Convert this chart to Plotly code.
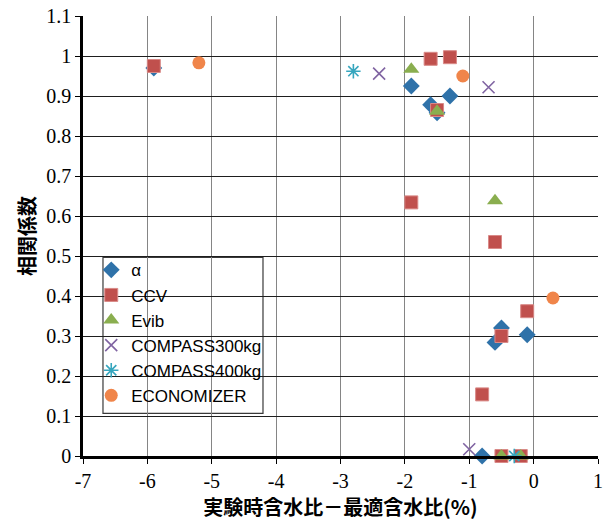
import plotly.graph_objects as go

# Correlation coefficient vs. (moisture content at test - optimum moisture content)
alpha_x = [-5.9, -1.9, -1.3, -1.6, -1.5, -0.5, -0.6, -0.1, -0.8]
alpha_y = [0.970, 0.925, 0.900, 0.878, 0.858, 0.320, 0.284, 0.303, 0.0]

ccv_x = [-5.9, -1.6, -1.3, -1.5, -1.9, -0.6, -0.1, -0.5, -0.8, -0.5, -0.2]
ccv_y = [0.975, 0.993, 0.997, 0.865, 0.634, 0.535, 0.362, 0.300, 0.154, 0.0, 0.0]

evib_x = [-1.9, -1.5, -0.6, -0.5, -0.2]
evib_y = [0.967, 0.862, 0.638, 0.0, 0.0]

c300_x = [-2.4, -0.7, -1.0]
c300_y = [0.956, 0.922, 0.017]

c400_x = [-2.8, -0.3]
c400_y = [0.962, 0.0]

econ_x = [-5.2, -1.1, 0.3]
econ_y = [0.983, 0.950, 0.395]

x_ticks = [-7, -6, -5, -4, -3, -2, -1, 0, 1]
y_ticks = [0, 0.1, 0.2, 0.3, 0.4, 0.5, 0.6, 0.7, 0.8, 0.9, 1.0, 1.1]
y_ticktext = ["0", "0.1", "0.2", "0.3", "0.4", "0.5", "0.6", "0.7", "0.8", "0.9", "1", "1.1"]

series = [
    ("α", alpha_x, alpha_y, dict(symbol="diamond", size=13, color="#2F72A9",
                                 line=dict(width=0))),
    ("CCV", ccv_x, ccv_y, dict(symbol="square", size=13, color="#C0504D",
                               line=dict(width=1, color="#D98A88"))),
    ("Evib", evib_x, evib_y, dict(symbol="triangle-up", size=14, color="#8AAE4F",
                                  line=dict(width=0))),
    ("COMPASS300kg", c300_x, c300_y, dict(symbol="x-thin-open", size=12, color="#8064A2",
                                          line=dict(width=1.6, color="#8064A2"))),
    ("COMPASS400kg", c400_x, c400_y, dict(symbol="asterisk-open", size=12, color="#36A6BE",
                                          line=dict(width=1.6, color="#36A6BE"))),
    ("ECONOMIZER", econ_x, econ_y, dict(symbol="circle", size=13, color="#F0854A",
                                        line=dict(width=0))),
]

fig = go.Figure()
for name, xs, ys, mk in series:
    fig.add_trace(go.Scatter(x=xs, y=ys, mode="markers", name=name, marker=mk,
                             cliponaxis=False))

tick_font = dict(family="Liberation Serif, serif", size=20, color="black")
title_font = dict(family="Noto Sans CJK JP", size=20, color="black")

fig.update_layout(
    template="none",
    width=611, height=523,
    margin=dict(l=83, r=13, t=16, b=67),
    paper_bgcolor="white", plot_bgcolor="white",
    font=dict(family="Liberation Serif, serif", size=20, color="black"),
    showlegend=True,
    legend=dict(x=0.016, y=0.463, xanchor="left", yanchor="top",
                bgcolor="rgba(0,0,0,0)", borderwidth=0,
                font=dict(family="Liberation Sans", size=17, color="black")),
    shapes=[dict(type="rect", xref="paper", yref="paper",
                 x0=0.0388, x1=0.3495, y0=0.0968, y1=0.4513,
                 fillcolor="white", line=dict(color="#3a3a3a", width=1.2),
                 layer="below")],
)
fig.update_xaxes(range=[-7, 1], tickmode="array", tickvals=x_ticks,
                 ticktext=[str(v) for v in x_ticks],
                 showgrid=True, gridcolor="#858585", gridwidth=1.3,
                 showline=True, linecolor="black", linewidth=2.5,
                 ticks="outside", ticklen=5, tickcolor="black", tickwidth=1,
                 zeroline=False, tickfont=tick_font,
                 title=dict(text="<b>実験時含水比－最適含水比(%)</b>", font=title_font,
                            standoff=8))
fig.update_yaxes(range=[0, 1.1], tickmode="array", tickvals=y_ticks, ticktext=y_ticktext,
                 showgrid=True, gridcolor="#1e1e1e", gridwidth=1,
                 showline=True, linecolor="black", linewidth=2.5,
                 ticks="outside", ticklen=5, tickcolor="black", tickwidth=1,
                 zeroline=False, tickfont=tick_font,
                 title=dict(text="<b>相関係数</b>", font=title_font, standoff=6))

fig.write_html("out.html")
